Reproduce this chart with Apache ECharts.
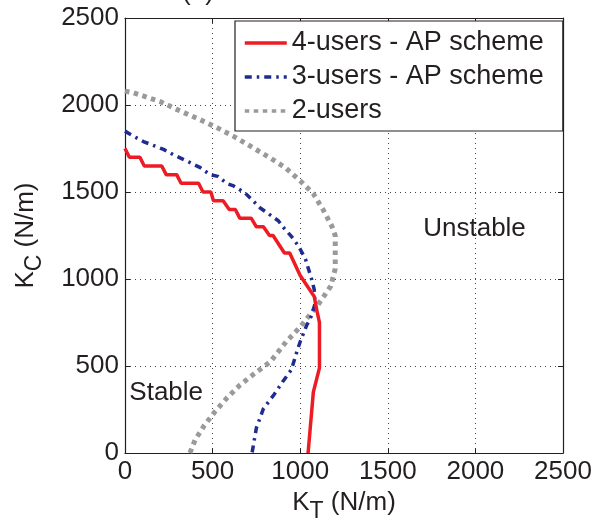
<!DOCTYPE html>
<html>
<head>
<meta charset="utf-8">
<script src="https://cdn.jsdelivr.net/npm/echarts@6/dist/echarts.min.js"></script>
<style>html,body{margin:0;padding:0;background:#fff}#c{width:595px;height:528px}</style>
</head>
<body>
<div id="c"></div>
<script>
// K_T (N/m), K_C (N/m) pairs
const users4 = [[0,1750],[25,1700],[85,1700],[110,1650],[210,1650],[235,1600],[295,1600],[320,1550],[420,1550],[445,1500],[490,1500],[505,1450],[560,1450],[595,1400],[630,1400],[655,1350],[720,1350],[750,1300],[790,1300],[825,1250],[845,1250],[910,1150],[940,1150],[1000,1020],[1080,900],[1095,820],[1110,750],[1110,490],[1075,350],[1045,0]];
const users3 = [[0,1850],[50,1820],[105,1790],[220,1745],[275,1715],[370,1670],[430,1640],[485,1600],[530,1590],[580,1550],[620,1535],[685,1495],[730,1450],[770,1410],[875,1335],[910,1290],[950,1245],[990,1190],[1030,1115],[1065,1000],[1080,940],[1085,860],[1065,790],[1035,730],[1000,640],[980,580],[950,480],[900,410],[850,335],[790,255],[750,145],[725,0]];
const users2 = [[0,2080],[50,2070],[200,2020],[295,1975],[430,1915],[525,1870],[620,1820],[730,1755],[830,1695],[915,1640],[1000,1565],[1075,1490],[1130,1400],[1180,1305],[1200,1250],[1200,1060],[1175,960],[1100,850],[1000,725],[920,640],[830,525],[730,450],[655,390],[580,315],[515,240],[450,155],[400,75],[370,0]];
const seriesNames = ['4-users - AP scheme','3-users - AP scheme','2-users'];
const axisMin = 0, axisMax = 2500, axisStep = 500;
const annotations = [{text:'Unstable', at:[1995,1290]},{text:'Stable', at:[235,345]}];

const FONT = "'Liberation Sans', Arial, Helvetica, sans-serif";
const TXT = '#231f20';
const chart = echarts.init(document.getElementById('c'), null, {renderer:'canvas'});
const rich = {
  m:{fontSize:26, fontFamily:FONT, color:TXT, lineHeight:40},
  s:{fontSize:23, fontFamily:FONT, color:TXT, lineHeight:16, verticalAlign:'bottom'}
};
const baseAxis = {
  type:'value', min:axisMin, max:axisMax, interval:axisStep,
  axisLine:{show:true, onZero:false, lineStyle:{color:'#231f20', width:1.2}},
  axisTick:{show:true, inside:true, length:5, lineStyle:{color:'#231f20'}},
  splitLine:{show:false}
};
const lbl = {fontSize:26, fontFamily:FONT, color:TXT, margin:6, formatter:v => String(v)};
chart.setOption({
  animation:false,
  backgroundColor:'#fff',
  grid:{left:125, right:32, top:18, bottom:73, containLabel:false},
  xAxis:[
    Object.assign({}, baseAxis, {
      position:'bottom',
      name:'{m|K}{s|T}{m| (N/m)}', nameLocation:'middle', nameGap:27,
      nameTextStyle:{rich:rich},
      axisLabel:lbl,
      splitLine:{show:true, lineStyle:{type:[1,4], color:'#444', width:1}}
    }),
    Object.assign({}, baseAxis, {position:'top', axisLabel:{show:false}})
  ],
  yAxis:[
    Object.assign({}, baseAxis, {
      position:'left',
      name:'{m|K}{s|C}{m| (N/m)}', nameLocation:'middle', nameGap:79, nameRotate:90,
      nameTextStyle:{rich:rich},
      axisLabel:lbl,
      splitLine:{show:true, lineStyle:{type:[1,4], color:'#444', width:1}}
    }),
    Object.assign({}, baseAxis, {position:'right', axisLabel:{show:false}})
  ],
  legend:{
    left:235, top:21, orient:'vertical',
    data:seriesNames,
    itemWidth:42, itemHeight:14, itemGap:6,
    padding:[8,19,6,8],
    borderColor:'#231f20', borderWidth:1.2, backgroundColor:'#fff',
    textStyle:{fontSize:27, fontFamily:FONT, color:TXT, lineHeight:28},
    itemStyle:{opacity:0},
    lineStyle:{width:3.5}
  },
  series:[
    {name:seriesNames[0], type:'line', data:users4, symbol:'none', z:4,
      lineStyle:{color:'#ed1c24', width:3.5}, itemStyle:{color:'#ed1c24'}},
    {name:seriesNames[1], type:'line', data:users3, symbol:'none', z:3,
      lineStyle:{color:'#1f2c8f', width:3.5, type:[7,5,2.5,5]}, itemStyle:{color:'#1f2c8f'}},
    {name:seriesNames[2], type:'line', data:users2, symbol:'none', z:2,
      lineStyle:{color:'#9a9a9a', width:5, type:[4.5,4.5], cap:'butt'}, itemStyle:{color:'#9a9a9a'}}
  ]
});
const g = annotations.map(a => {
  const p = chart.convertToPixel({xAxisIndex:0, yAxisIndex:0}, a.at);
  return {type:'text', x:p[0], y:p[1], z:10,
    style:{text:a.text, font:'26px ' + FONT, fill:TXT, align:'center', verticalAlign:'middle'}};
});
g.push({type:'text', x:198, y:6, style:{text:'(a)', font:'26px ' + FONT, fill:TXT, align:'center', verticalAlign:'bottom'}});
chart.setOption({graphic:g});
</script>
</body>
</html>
